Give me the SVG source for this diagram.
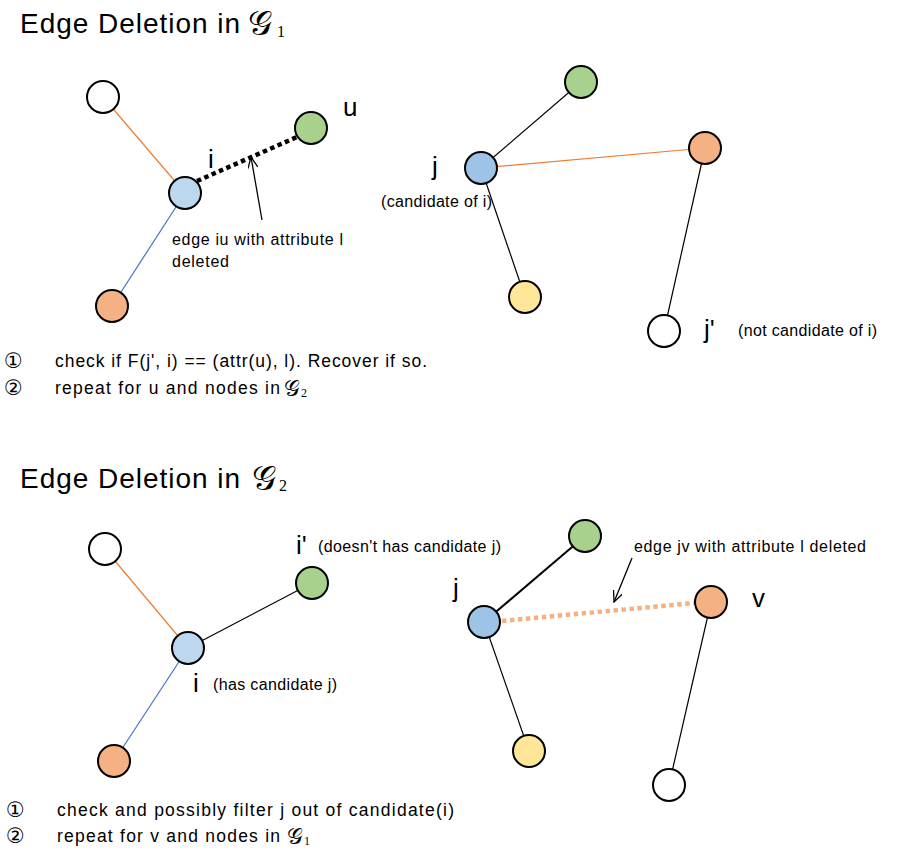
<svg xmlns="http://www.w3.org/2000/svg" width="898" height="860" viewBox="0 0 898 860">
<defs>
<style>
text{font-family:"Liberation Sans",Arial,sans-serif;fill:#000}
.title{font-size:28px}
.lbl{font-size:26px}
.small{font-size:16px}
.instr{font-size:17.5px}
.num{font-family:"DejaVu Sans",sans-serif;font-size:21px}
.math{font-family:"DejaVu Serif","Liberation Serif",serif}
.sub{font-family:"Liberation Serif",serif}
.node{stroke:#000;stroke-width:2}
.e{fill:none;stroke-width:1.2}
.blk{stroke:#000}
.org{stroke:#ED7D31}
.blu{stroke:#4472C4}
.arr{fill:none;stroke:#000;stroke-width:1.3}
</style>
<marker id="ah" viewBox="0 0 12 10" refX="11" refY="5" markerWidth="12" markerHeight="10" markerUnits="userSpaceOnUse" orient="auto">
<path d="M0,0 L11,5 L0,10" fill="none" stroke="#000" stroke-width="1.3"/>
</marker>
</defs>

<g id="connectors">
<line class="e org" x1="103" y1="97" x2="185" y2="193"/>
<line class="e blu" x1="185" y1="193" x2="112" y2="306"/>
<line x1="197" y1="181" x2="297" y2="137" stroke="#000" stroke-width="4.5" stroke-dasharray="4.5 3.5"/>
<line class="e blk" x1="581" y1="82" x2="481" y2="168"/>
<line class="e org" x1="481" y1="168" x2="705" y2="148"/>
<line class="e blk" x1="481" y1="168" x2="525" y2="297"/>
<line class="e blk" x1="705" y1="148" x2="664" y2="331"/>
<line class="arr" x1="262" y1="220" x2="251" y2="157" marker-end="url(#ah)"/>

<line class="e org" x1="105" y1="549" x2="188" y2="648"/>
<line class="e blu" x1="188" y1="648" x2="114" y2="761"/>
<line class="e blk" x1="188" y1="648" x2="312" y2="583"/>
<line x1="585" y1="536" x2="484" y2="622" stroke="#000" stroke-width="2"/>
<line class="e blk" x1="484" y1="622" x2="529" y2="751"/>
<line class="e blk" x1="711" y1="602" x2="669" y2="785"/>
<line x1="502" y1="621" x2="694" y2="603" stroke="#F4B183" stroke-width="4.5" stroke-dasharray="4.5 3.5"/>
<line class="arr" x1="632" y1="558" x2="614" y2="602" marker-end="url(#ah)"/>
</g>

<g id="title1"><text class="title" x="20" y="33" textLength="220" lengthAdjust="spacing">Edge Deletion in</text><text class="math" x="248" y="35" font-size="34">𝒢</text><text class="sub" x="277" y="37" font-size="16">1</text></g>

<g id="n1-white"><circle class="node" cx="103" cy="97" r="16" fill="#FFFFFF"/></g>
<g id="n1-i"><circle class="node" cx="185" cy="193" r="16" fill="#BDD7EE"/><text class="lbl" x="208" y="168">i</text></g>
<g id="n1-u"><circle class="node" cx="311" cy="128" r="16" fill="#A9D18E"/><text class="lbl" x="343" y="116">u</text></g>
<g id="n1-orange"><circle class="node" cx="112" cy="306" r="16" fill="#F4B183"/></g>
<g id="label1"><text class="small" x="172" y="245" textLength="171" lengthAdjust="spacing">edge iu with attribute l</text><text class="small" x="172" y="267" textLength="57" lengthAdjust="spacing">deleted</text></g>

<g id="n1-green"><circle class="node" cx="581" cy="82" r="16" fill="#A9D18E"/></g>
<g id="n1-j"><circle class="node" cx="481" cy="168" r="16" fill="#9DC3E6"/><text class="lbl" x="432" y="175">j</text><text class="small" x="381" y="207" textLength="111" lengthAdjust="spacing">(candidate of i)</text></g>
<g id="n1-orange2"><circle class="node" cx="705" cy="148" r="16" fill="#F4B183"/></g>
<g id="n1-yellow"><circle class="node" cx="525" cy="297" r="16" fill="#FFE699"/></g>
<g id="n1-jp"><circle class="node" cx="664" cy="331" r="16" fill="#FFFFFF"/><text class="lbl" x="704" y="338">j'</text><text class="small" x="738" y="336" textLength="139" lengthAdjust="spacing">(not candidate of i)</text></g>

<g id="steps1">
<text class="num" x="4" y="368">①</text>
<text class="instr" x="55" y="367" textLength="372" lengthAdjust="spacing">check if F(j', i) == (attr(u), l). Recover if so.</text>
<text class="num" x="4" y="395">②</text>
<text class="instr" x="55" y="394" textLength="225" lengthAdjust="spacing">repeat for u and nodes in</text>
<text class="math" x="284" y="396" font-size="22">𝒢</text><text class="sub" x="301" y="397" font-size="12">2</text>
</g>

<g id="title2"><text class="title" x="20" y="488" textLength="220" lengthAdjust="spacing">Edge Deletion in</text><text class="math" x="252" y="490" font-size="34">𝒢</text><text class="sub" x="279" y="491" font-size="16">2</text></g>

<g id="n2-white"><circle class="node" cx="105" cy="549" r="16" fill="#FFFFFF"/></g>
<g id="n2-ip"><circle class="node" cx="312" cy="583" r="16" fill="#A9D18E"/><text class="lbl" x="296" y="554">i'</text><text class="small" x="318" y="552" textLength="183" lengthAdjust="spacing">(doesn't has candidate j)</text></g>
<g id="n2-i"><circle class="node" cx="188" cy="648" r="16" fill="#BDD7EE"/><text class="lbl" x="193" y="692">i</text><text class="small" x="213" y="690" textLength="124" lengthAdjust="spacing">(has candidate j)</text></g>
<g id="n2-orange"><circle class="node" cx="114" cy="761" r="16" fill="#F4B183"/></g>

<g id="n2-green"><circle class="node" cx="585" cy="536" r="16" fill="#A9D18E"/></g>
<g id="n2-j"><circle class="node" cx="484" cy="622" r="16" fill="#9DC3E6"/><text class="lbl" x="453" y="597">j</text></g>
<g id="n2-v"><circle class="node" cx="711" cy="602" r="16" fill="#F4B183"/><text class="lbl" x="752" y="607">v</text></g>
<g id="n2-yellow"><circle class="node" cx="529" cy="751" r="16" fill="#FFE699"/></g>
<g id="n2-white2"><circle class="node" cx="669" cy="785" r="16" fill="#FFFFFF"/></g>
<g id="label2"><text class="small" x="634" y="552" textLength="232" lengthAdjust="spacing">edge jv with attribute l deleted</text></g>

<g id="steps2">
<text class="num" x="6" y="817">①</text>
<text class="instr" x="57" y="816" textLength="397" lengthAdjust="spacing">check and possibly filter j out of candidate(i)</text>
<text class="num" x="6" y="843">②</text>
<text class="instr" x="57" y="842" textLength="223" lengthAdjust="spacing">repeat for v and nodes in</text>
<text class="math" x="287" y="844" font-size="22">𝒢</text><text class="sub" x="304" y="845" font-size="12">1</text>
</g>
</svg>
